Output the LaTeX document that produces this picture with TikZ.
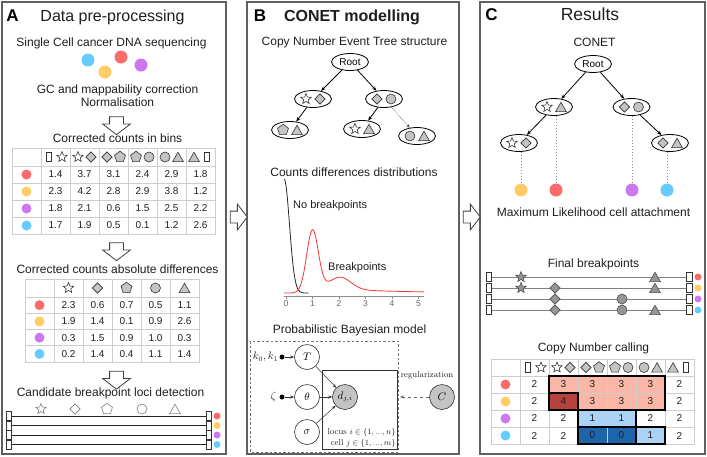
\documentclass[tikz,border=0pt]{standalone}
\usepackage{fontspec}
\setsansfont{Liberation Sans}
\usetikzlibrary{arrows.meta,positioning,shapes.geometric,shapes.arrows}
\definecolor{CnRed}{RGB}{250,108,108}
\definecolor{CnYellow}{RGB}{255,204,102}
\definecolor{CnPurple}{RGB}{204,119,238}
\definecolor{CnCyan}{RGB}{102,204,255}
\definecolor{CnLightRed}{RGB}{250,182,166}
\definecolor{CnDarkRed}{RGB}{182,66,62}
\definecolor{CnLightBlue}{RGB}{170,211,245}
\definecolor{CnDarkBlue}{RGB}{30,102,172}
\definecolor{CnGrid}{RGB}{205,205,205}
\definecolor{CnFrame}{RGB}{95,95,95}
\definecolor{CnSym}{RGB}{196,196,196}
\definecolor{CnSymDark}{RGB}{150,150,150}
\definecolor{CnText}{RGB}{30,30,30}
\definecolor{CnCurve}{RGB}{250,50,50}
\tikzset{
  cn/text/.style={font=\sffamily\fontsize{12}{14}\selectfont, text=CnText, anchor=base, inner sep=0pt},
  cn/title/.style={cn/text, font=\sffamily\fontsize{16}{19}\selectfont},
  cn/bigtitle/.style={cn/text, font=\sffamily\fontsize{17.5}{20}\selectfont},
  cn/boldtitle/.style={cn/text, font=\sffamily\bfseries\fontsize{16}{19}\selectfont},
  cn/letter/.style={cn/text, font=\sffamily\bfseries\fontsize{17}{20}\selectfont, text=black},
  cn/label/.style={cn/text, font=\sffamily\fontsize{11}{13}\selectfont, anchor=base west},
  cn/num/.style={font=\sffamily\fontsize{10}{12}\selectfont, text=CnText, inner sep=0pt},
  cn/tick/.style={font=\sffamily\fontsize{8.5}{10}\selectfont, text=black!60, inner sep=0pt},
  cn/serif/.style={font=\rmfamily\fontsize{8.5}{11.5}\selectfont, text=CnText, inner sep=1pt},
  cn/math/.style={font=\rmfamily\fontsize{10.5}{12}\selectfont, text=CnText, inner sep=1pt},
  cn/panel/.style={draw=CnFrame, line width=1.1pt, inner sep=0pt},
  cn/bigarrow/.style={single arrow, draw=black!75, fill=white, line width=0.8pt, inner xsep=0pt,
    inner ysep=6.5pt, minimum height=18pt, single arrow head extend=7pt, single arrow tip angle=105},
  cn/downarrow/.style={cn/bigarrow, rotate=-90},
  cn/grid/.style={draw=CnGrid, line width=0.7pt},
  cn/cnbox/.style={draw=black, line width=1.2pt},
  cn/celldot/.style={circle, inner sep=0pt, minimum size=13pt},
  cn/dot/.style={circle, inner sep=0pt, minimum size=10pt},
  cn/enddot/.style={circle, inner sep=0pt, minimum size=7pt},
  cn/endbox/.style={rectangle, draw=black!80, fill=white, line width=0.6pt, inner sep=0pt,
    minimum width=5.5pt, minimum height=9pt},
  cn/bpline/.style={draw=black!50, line width=0.8pt},
  cn/sym/.style={draw=black!80, line width=0.6pt, inner sep=0pt, fill=CnSym},
  cn/star/.style={cn/sym, star, star points=5, star point ratio=2.3, minimum size=11pt, fill=white},
  cn/diamond/.style={cn/sym, diamond, minimum size=10.5pt},
  cn/pent/.style={cn/sym, regular polygon, regular polygon sides=5, minimum size=11.5pt},
  cn/circ/.style={cn/sym, circle, minimum size=10pt},
  cn/tri/.style={cn/sym, regular polygon, regular polygon sides=3, minimum size=12.5pt, yshift=-1.5pt},
  cn/rect/.style={cn/sym, rectangle, minimum width=5.5pt, minimum height=9.5pt, fill=white},
  cn/hollow/.style={fill=white, draw=black!50},
  cn/bp/.style={fill=CnSymDark, draw=black!70},
  cn/tree/.style={ellipse, draw=black, line width=0.8pt, fill=white, minimum width=37pt,
    minimum height=17pt, inner sep=0pt, font=\sffamily\fontsize{10}{12}\selectfont},
  cn/edge/.style={-{Stealth[length=4.5pt,width=3.5pt]}, line width=0.8pt, draw=black},
  cn/weakedge/.style={-{Stealth[length=4pt,width=3pt]}, line width=0.5pt, densely dotted, draw=black!70},
  cn/attach/.style={draw=black!45, line width=0.6pt, dash pattern=on 1.5pt off 1.5pt},
  cn/axis/.style={draw=black!45, line width=0.6pt},
  cn/bnode/.style={circle, draw=black!80, line width=0.6pt, fill=white, minimum size=25pt,
    inner sep=0pt, font=\rmfamily\fontsize{10.5}{12}\selectfont},
  cn/param/.style={circle, fill=black, inner sep=0pt, minimum size=5pt},
  cn/barrow/.style={-{Stealth[length=4pt,width=3pt]}, line width=0.5pt, draw=black!80},
  cn/regarrow/.style={-{Stealth[length=4pt,width=3pt]}, line width=0.5pt, dashed, draw=black!60},
  cn/dashbox/.style={draw=black!55, line width=0.6pt, dash pattern=on 2.5pt off 2pt}
}
% two symbols side by side inside a cell or tree node
\newcommand{\cnpair}[4][6.5pt]{%
  \node[cn/#3,xshift=-#1] (#2a) at (#2) {};
  \node[cn/#4,xshift=#1] (#2b) at (#2) {};}

\begin{document}
\begin{tikzpicture}[x=1pt,y=-1pt]
  \useasboundingbox (0,0) rectangle (707,456);
  \node[cn/panel,minimum width=224pt,minimum height=452pt] (panelA) at (114,228) {};
  \node[cn/panel,minimum width=212pt,minimum height=452pt] (panelB) at (353,228) {};
  \node[cn/panel,minimum width=225pt,minimum height=452pt] (panelC) at (592.5,228) {};
  \node[cn/bigarrow,minimum height=17pt,inner ysep=5.5pt] (arrAB) at (236.5,217) {};
  \node[cn/bigarrow,minimum height=17pt,inner ysep=5.5pt] (arrBC) at (469.5,217) {};

  % A: data pre-processing
  \node[cn/letter] (aLetter) at (12.5,21) {A};
  \node[cn/title] (aTitle) at (112.5,21) {Data pre-processing};
  \node[cn/text] (aSeq) at (111.5,46.7) {Single Cell cancer DNA sequencing};
  \node[cn/celldot,fill=CnCyan] (aCyan) at (88,60) {};
  \node[cn/celldot,fill=CnRed] (aRed) at (121,57) {};
  \node[cn/celldot,fill=CnYellow] (aYellow) at (105,72) {};
  \node[cn/celldot,fill=CnPurple] (aPurple) at (141,65) {};
  \node[cn/text] (aGC) at (117.5,93) {GC and mappability correction};
  \node[cn/text] (aNorm) at (117.5,106) {Normalisation};
  \node[cn/downarrow] (aArr1) at (116.5,123) {};
  \node[cn/text] (aBins) at (117.5,142) {Corrected counts in bins};
  \foreach \xx in {41,70,...,186} \draw[cn/grid] (\xx,148) -- (\xx,234);
  \foreach \yy in {166,183,200,217} \draw[cn/grid] (12,\yy) -- (215,\yy);
  \draw[cn/grid] (12,148) rectangle (215,234);
  \foreach \symA/\symB [count=\col] in {rect/star,star/diamond,diamond/pent,pent/circ,circ/tri,tri/rect} {
    \coordinate (tah\col) at (26.5+29*\col,157);
    \cnpair{tah\col}{\symA}{\symB}
  }
  \foreach \clr/\vals [count=\row] in {CnRed/{1.4,3.7,3.1,2.4,2.9,1.8},CnYellow/{2.3,4.2,2.8,2.9,3.8,1.2},
      CnPurple/{1.8,2.1,0.6,1.5,2.5,2.2},CnCyan/{1.7,1.9,0.5,0.1,1.2,2.6}} {
    \node[cn/dot,fill=\clr] (tad\row) at (26.5,157.5+17*\row) {};
    \foreach \val [count=\col] in \vals
      \node[cn/num] (ta\row-\col) at (26.5+29*\col,157.5+17*\row) {\val};
  }
  \node[cn/downarrow] (aArr2) at (116.5,249) {};
  \node[cn/text] (aDiff) at (117.5,273.3) {Corrected counts absolute differences};
  \foreach \xx in {54,83,...,170} \draw[cn/grid] (\xx,279) -- (\xx,362);
  \foreach \yy in {297,313.25,329.5,345.75} \draw[cn/grid] (25,\yy) -- (199,\yy);
  \draw[cn/grid] (25,279) rectangle (199,362);
  \foreach \sh [count=\col] in {star,diamond,pent,circ,tri}
    \node[cn/\sh] (tbh\col) at (39.5+29*\col,288) {};
  \foreach \clr/\vals [count=\row] in {CnRed/{2.3,0.6,0.7,0.5,1.1},CnYellow/{1.9,1.4,0.1,0.9,2.6},
      CnPurple/{0.3,1.5,0.9,1.0,0.3},CnCyan/{0.2,1.4,0.4,1.1,1.4}} {
    \node[cn/dot,fill=\clr] (tbd\row) at (39.5,288.9+16.25*\row) {};
    \foreach \val [count=\col] in \vals
      \node[cn/num] (tb\row-\col) at (39.5+29*\col,288.9+16.25*\row) {\val};
  }
  \node[cn/downarrow] (aArr3) at (116.5,377.5) {};
  \node[cn/text] (aCand) at (110.5,396.7) {Candidate breakpoint loci detection};
  \foreach \sh/\xx in {star/41,diamond/75,pent/107,circ/142,tri/175}
    \node[cn/\sh,cn/hollow] (aSym\sh) at (\xx,409) {};
  \foreach \clr/\yy [count=\row] in {CnRed/416,CnYellow/425.5,CnPurple/435,CnCyan/444.5} {
    \node[cn/endbox] (aL\row) at (9,\yy) {};
    \node[cn/endbox] (aR\row) at (209,\yy) {};
    \draw[cn/bpline,draw=black!85] (aL\row) -- (aR\row);
    \node[cn/enddot,fill=\clr] (aD\row) at (217,\yy) {};
  }

  % B: CONET modelling
  \node[cn/letter] (bLetter) at (260,21) {B};
  \node[cn/boldtitle] (bTitle) at (352,21) {CONET modelling};
  \node[cn/text] (bTreeTitle) at (354.5,45.7) {Copy Number Event Tree structure};
  \node[cn/tree] (bRoot) at (350,62) {Root};
  \node[cn/tree] (bL) at (313,99) {}; \cnpair[7pt]{bL}{star}{diamond}
  \node[cn/tree] (bR) at (384,99) {}; \cnpair[7pt]{bR}{diamond}{circ}
  \node[cn/tree] (bLL) at (290,130) {}; \cnpair[7pt]{bLL}{pent}{tri}
  \node[cn/tree] (bRL) at (362,129) {}; \cnpair[7pt]{bRL}{star}{tri}
  \node[cn/tree] (bRR) at (417,136) {}; \cnpair[7pt]{bRR}{circ}{tri}
  \draw[cn/edge] (bRoot) -- (bL);
  \draw[cn/edge] (bRoot) -- (bR);
  \draw[cn/edge] (bL) -- (bLL);
  \draw[cn/edge] (bR) -- (bRL);
  \draw[cn/weakedge] (bR) -- (bRR);
  \node[cn/text] (bDistTitle) at (354,176) {Counts differences distributions};
  \begin{scope}[shift={(286,293)},x=26.5pt,y=1pt]
    \draw[cn/axis] (-0.07,-3) -- (5.2,-3);
    \foreach \tk in {0,...,5} {
      \draw[cn/axis] (\tk,-3) -- (\tk,-6);
      \node[cn/tick] (bTick\tk) at (\tk,-11) {\tk};
    }
    \draw[black!85,line width=0.8pt] plot[domain=-0.07:0.85,samples=60,smooth]
      (\x,{114*exp(-((\x+0.07)*(\x+0.07))/0.08)});
    \draw[CnCurve,line width=0.8pt] plot[domain=-0.07:5.2,samples=150,smooth]
      (\x,{62*exp(max(-12,-((\x-1)*(\x-1))/0.0968)) + 12*exp(max(-12,-((\x-2.05)*(\x-2.05))/0.32))
        + 6*exp(-(\x-1)/2.5)/(1+exp(-5*(\x-1.3)))});
  \end{scope}
  \node[cn/label] (bNoBp) at (293,208.3) {No breakpoints};
  \node[cn/label] (bBp) at (328,270) {Breakpoints};
  \node[cn/text] (bModelTitle) at (349.5,333.3) {Probabilistic Bayesian model};
  \draw[cn/dashbox] (250,341) rectangle (398,452);
  \node[draw=black!80,line width=0.6pt,minimum width=75pt,minimum height=79pt] (bPlate) at (359.5,409.5) {};
  \node[cn/bnode] (bT) at (307,357) {$T$};
  \node[cn/bnode] (bTheta) at (307,397) {$\theta$};
  \node[cn/bnode] (bSigma) at (307,432) {$\sigma$};
  \node[cn/bnode,fill=CnSym] (bD) at (345,397) {$d_{j,i}$};
  \node[cn/bnode,fill=CnSym] (bC) at (442,397) {$C$};
  \node[cn/param] (bK) at (282,357) {};
  \node[cn/param] (bZ) at (282,397) {};
  \node[cn/math,anchor=east] (bKLab) at (bK.west) {$k_0,k_1$};
  \node[cn/math,anchor=east] (bZLab) at ([xshift=-2pt]bZ.west) {$\zeta$};
  \draw[cn/barrow] (bK) -- (bT);
  \draw[cn/barrow] (bZ) -- (bTheta);
  \draw[cn/barrow] (bT) -- (bD);
  \draw[cn/barrow] (bTheta) -- (bD);
  \draw[cn/barrow] (bSigma) -- (bD);
  \coordinate (bReg) at (400,397);
  \draw[cn/regarrow] (bC) -- (bReg);
  \node[cn/serif] (bRegLab) at (427,375) {regularization};
  \node[cn/serif,anchor=south east,align=right,inner sep=1.5pt] (bPlateLab) at (bPlate.south east)
    {locus $i\in\{1,...,n\}$\\cell $j\in\{1,...,m\}$};

  % C: results
  \node[cn/letter] (cLetter) at (491.5,20.7) {C};
  \node[cn/bigtitle] (cTitle) at (590,20.7) {Results};
  \node[cn/text] (cTreeTitle) at (594.5,46.7) {CONET};
  \node[cn/tree] (cRoot) at (593,64) {Root};
  \node[cn/tree] (cL) at (554,107) {}; \cnpair[7pt]{cL}{star}{tri}
  \node[cn/tree] (cR) at (631.5,107) {}; \cnpair[7pt]{cR}{diamond}{circ}
  \node[cn/tree] (cLL) at (519,143) {}; \cnpair[7pt]{cLL}{star}{diamond}
  \node[cn/tree] (cRR) at (670,143) {}; \cnpair[7pt]{cRR}{diamond}{tri}
  \draw[cn/edge] (cRoot) -- (cL);
  \draw[cn/edge] (cRoot) -- (cR);
  \draw[cn/edge] (cL) -- (cLL);
  \draw[cn/edge] (cR) -- (cRR);
  \node[cn/celldot,fill=CnYellow] (cDotY) at (521,190) {};
  \node[cn/celldot,fill=CnRed] (cDotR) at (556,190) {};
  \node[cn/celldot,fill=CnPurple] (cDotP) at (632,190) {};
  \node[cn/celldot,fill=CnCyan] (cDotC) at (667,190) {};
  \draw[cn/attach] (cLL.south -| cDotY) -- (cDotY.north);
  \draw[cn/attach] (cL.south -| cDotR) -- (cDotR.north);
  \draw[cn/attach] (cR.south -| cDotP) -- (cDotP.north);
  \draw[cn/attach] (cRR.south -| cDotC) -- (cDotC.north);
  \node[cn/text] (cAttach) at (593.5,216.7) {Maximum Likelihood cell attachment};
  \node[cn/text] (cBpTitle) at (593.5,267.7) {Final breakpoints};
  \foreach \clr/\yy [count=\row] in {CnRed/277,CnYellow/288,CnPurple/299,CnCyan/310} {
    \node[cn/endbox] (cbL\row) at (489,\yy) {};
    \node[cn/endbox] (cbR\row) at (689.5,\yy) {};
    \draw[cn/bpline] (cbL\row) -- (cbR\row);
    \node[cn/enddot,fill=\clr] (cbD\row) at (698,\yy) {};
  }
  \foreach \sh/\xx/\yy in {star/521/277,tri/655/277,star/521/288,diamond/555/288,tri/655/288,
      diamond/555/299,circ/622/299,diamond/555/310,circ/622/310,tri/655/310}
    \node[cn/\sh,cn/bp] (cb\sh\yy) at (\xx,\yy) {};
  \node[cn/text] (cCnTitle) at (593.5,351.7) {Copy Number calling};
  \fill[CnLightRed] (549,376) -- (665,376) -- (665,410) -- (578,410) -- (578,393) -- (549,393) -- cycle;
  \fill[CnDarkRed] (549,393) rectangle (578,410);
  \fill[CnLightBlue] (578,410) rectangle (636,427);
  \fill[CnDarkBlue] (578,427) rectangle (636,444);
  \fill[CnLightBlue] (636,427) rectangle (665,444);
  \foreach \xx in {520,549,...,665} \draw[cn/grid] (\xx,359) -- (\xx,444);
  \foreach \yy in {376,393,410,427} \draw[cn/grid] (491,\yy) -- (694,\yy);
  \draw[cn/grid] (491,359) rectangle (694,444);
  \draw[cn/cnbox] (549,376) -- (665,376) -- (665,410) -- (578,410) -- (578,393) -- (549,393) -- cycle;
  \draw[cn/cnbox] (549,393) rectangle (578,410);
  \draw[cn/cnbox] (578,410) rectangle (636,427);
  \draw[cn/cnbox] (578,427) rectangle (636,444);
  \draw[cn/cnbox] (636,427) rectangle (665,444);
  \foreach \symA/\symB [count=\col] in {rect/star,star/diamond,diamond/pent,pent/circ,circ/tri,tri/rect} {
    \coordinate (tch\col) at (505.5+29*\col,367.5);
    \cnpair{tch\col}{\symA}{\symB}
  }
  \foreach \clr/\vals [count=\row] in {CnRed/{2,3,3,3,3,2},CnYellow/{2,4,3,3,3,2},
      CnPurple/{2,2,1,1,2,2},CnCyan/{2,2,0,0,1,2}} {
    \node[cn/dot,fill=\clr] (tcd\row) at (505.5,367.5+17*\row) {};
    \foreach \val [count=\col] in \vals
      \node[cn/num] (tc\row-\col) at (505.5+29*\col,367.5+17*\row) {\val};
  }
\end{tikzpicture}
\end{document}
